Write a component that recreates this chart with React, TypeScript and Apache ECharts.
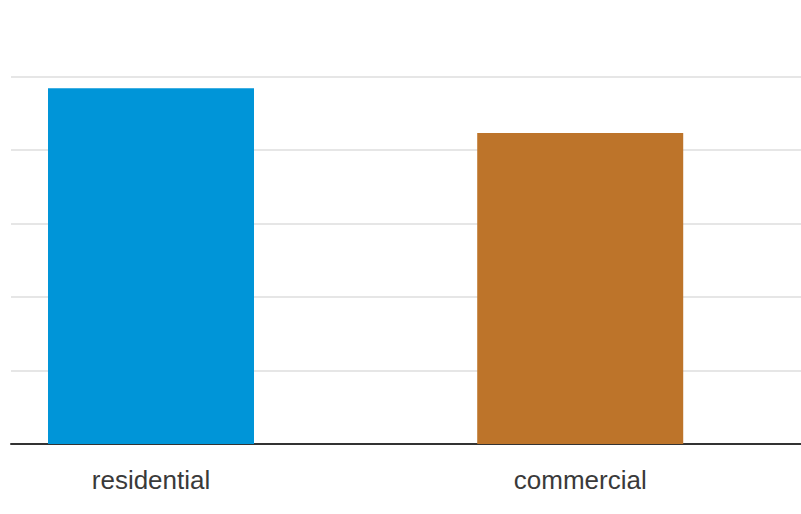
import React, { useEffect, useRef } from "react";
import * as echarts from "echarts";

const categories = ["residential", "commercial"];
const values = [4.84, 4.23];
const colors = ["#0095D8", "#BD742A"];

export default function App() {
  const ref = useRef<HTMLDivElement>(null);
  useEffect(() => {
    const chart = echarts.init(ref.current!, null, { renderer: "svg" });
    chart.setOption({
      animation: false,
      grid: { left: 11, right: 0, top: 76.5, bottom: 70 },
      xAxis: {
        type: "value",
        min: -0.3262,
        max: 1.5144,
        splitLine: { show: false },
        axisTick: { show: false },
        axisLine: { show: true, onZero: false, lineStyle: { color: "#333333", width: 2 } },
        axisLabel: {
          customValues: [0, 1],
          hideOverlap: false,
          margin: 23,
          fontSize: 26,
          color: "#3a3a3a",
          fontFamily: "Liberation Sans, Arial, sans-serif",
          formatter: (v: number) => {
            const i = Math.round(v);
            return Math.abs(v - i) < 1e-6 && categories[i] ? categories[i] : "";
          },
        },
      },
      yAxis: {
        type: "value",
        min: 0,
        max: 5,
        interval: 1,
        axisLabel: { show: false },
        axisLine: { show: false },
        axisTick: { show: false },
        splitLine: { show: true, lineStyle: { color: "#e6e6e6", width: 2 } },
      },
      series: [
        {
          type: "bar",
          barWidth: 206,
          data: values.map((v, i) => ({ value: [i, v], itemStyle: { color: colors[i] } })),
        },
      ],
    });
    return () => chart.dispose();
  }, []);
  return (
    <div
      ref={ref}
      style={{ position: "absolute", left: 0, top: 0, width: 801, height: 514 }}
    />
  );
}
